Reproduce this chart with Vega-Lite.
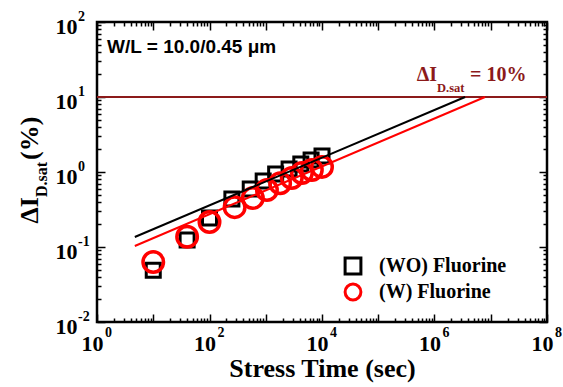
{
  "$schema": "https://vega.github.io/schema/vega-lite/v6.json",
  "width": 450,
  "height": 300,
  "autosize": {"type": "none"},
  "padding": {"left": 97, "top": 22, "right": 16, "bottom": 65},
  "background": "white",
  "config": {
    "view": {"stroke": "black", "strokeWidth": 2.5},
    "axis": {
      "domain": false, "grid": false, "tickColor": "black", "tickWidth": 1.5,
      "labelFont": "Liberation Serif", "labelFontWeight": "bold", "labelFontSize": 22, "labelColor": "black",
      "labelOverlap": false, "labelFlush": false,
      "titleFont": "Liberation Serif", "titleFontWeight": "bold", "titleFontSize": 26, "titleColor": "black"
    },
    "legend": {
      "title": null, "orient": "none", "legendX": 246, "legendY": 234, "padding": 0,
      "labelFont": "Liberation Serif", "labelFontWeight": "bold", "labelFontSize": 20, "labelColor": "black",
      "symbolSize": 250, "symbolStrokeWidth": 3, "rowPadding": -2, "labelOffset": 16
    },
    "text": {"font": "Liberation Serif", "fontWeight": "bold"}
  },
  "datasets": {
    "meas": [
      {"sample": "(WO) Fluorine", "time": 10, "dIdsat": 0.049},
      {"sample": "(WO) Fluorine", "time": 40, "dIdsat": 0.124},
      {"sample": "(WO) Fluorine", "time": 100, "dIdsat": 0.244},
      {"sample": "(WO) Fluorine", "time": 250, "dIdsat": 0.436},
      {"sample": "(WO) Fluorine", "time": 530, "dIdsat": 0.593},
      {"sample": "(WO) Fluorine", "time": 900, "dIdsat": 0.759},
      {"sample": "(WO) Fluorine", "time": 1500, "dIdsat": 0.94},
      {"sample": "(WO) Fluorine", "time": 2600, "dIdsat": 1.10},
      {"sample": "(WO) Fluorine", "time": 4200, "dIdsat": 1.28},
      {"sample": "(WO) Fluorine", "time": 6400, "dIdsat": 1.45},
      {"sample": "(WO) Fluorine", "time": 10000, "dIdsat": 1.63},
      {"sample": "(W) Fluorine", "time": 10, "dIdsat": 0.063},
      {"sample": "(W) Fluorine", "time": 40, "dIdsat": 0.137},
      {"sample": "(W) Fluorine", "time": 100, "dIdsat": 0.215},
      {"sample": "(W) Fluorine", "time": 280, "dIdsat": 0.34},
      {"sample": "(W) Fluorine", "time": 590, "dIdsat": 0.45},
      {"sample": "(W) Fluorine", "time": 1050, "dIdsat": 0.575},
      {"sample": "(W) Fluorine", "time": 1800, "dIdsat": 0.71},
      {"sample": "(W) Fluorine", "time": 2900, "dIdsat": 0.83},
      {"sample": "(W) Fluorine", "time": 4400, "dIdsat": 0.97},
      {"sample": "(W) Fluorine", "time": 6600, "dIdsat": 1.06},
      {"sample": "(W) Fluorine", "time": 10000, "dIdsat": 1.17}
    ],
    "fit": [
      {"sample": "(WO) Fluorine", "time": 4.7, "dIdsat": 0.136},
      {"sample": "(WO) Fluorine", "time": 3500000, "dIdsat": 10},
      {"sample": "(W) Fluorine", "time": 4.7, "dIdsat": 0.103},
      {"sample": "(W) Fluorine", "time": 7900000, "dIdsat": 10}
    ]
  },
  "layer": [
    {
      "data": {"values": [{}]},
      "mark": {"type": "rule", "color": "#8c1a1a", "strokeWidth": 2},
      "encoding": {
        "y": {"datum": 10, "type": "quantitative", "scale": {"type": "log", "domain": [0.01, 100]}, "axis": null}
      }
    },
    {
      "data": {"name": "meas"},
      "transform": [{"filter": "datum.sample == '(WO) Fluorine'"}],
      "mark": {"type": "point", "filled": false, "opacity": 1, "size": 196, "strokeWidth": 3},
      "encoding": {
        "x": {"field": "time", "type": "quantitative", "scale": {"type": "log", "domain": [1, 100000000]},
          "axis": {"orient": "bottom", "values": [1, 100, 10000, 1000000, 100000000], "labelExpr": "'10'",
            "ticks": false, "labelPadding": 11, "labelOffset": -5,
            "title": "Stress Time (sec)", "titlePadding": 1}},
        "y": {"field": "dIdsat", "type": "quantitative", "scale": {"type": "log", "domain": [0.01, 100]},
          "axis": {"orient": "left", "values": [0.01, 0.1, 1, 10, 100], "labelExpr": "'10'",
            "ticks": false, "labelPadding": 20, "labelOffset": 4, "labelAlign": "right", "labelBaseline": "middle",
            "title": null}},
        "shape": {"field": "sample", "type": "nominal",
          "scale": {"domain": ["(WO) Fluorine", "(W) Fluorine"], "range": ["square", "circle"]}},
        "stroke": {"field": "sample", "type": "nominal",
          "scale": {"domain": ["(WO) Fluorine", "(W) Fluorine"], "range": ["black", "#ff0000"]}}
      }
    },
    {
      "data": {"name": "meas"},
      "transform": [{"filter": "datum.sample == '(W) Fluorine'"}],
      "mark": {"type": "point", "filled": false, "opacity": 1, "size": 420, "strokeWidth": 3.5},
      "encoding": {
        "x": {"field": "time", "type": "quantitative", "scale": {"type": "log", "domain": [1, 100000000]}, "axis": null},
        "y": {"field": "dIdsat", "type": "quantitative", "scale": {"type": "log", "domain": [0.01, 100]}, "axis": null},
        "shape": {"field": "sample", "type": "nominal",
          "scale": {"domain": ["(WO) Fluorine", "(W) Fluorine"], "range": ["square", "circle"]}},
        "stroke": {"field": "sample", "type": "nominal",
          "scale": {"domain": ["(WO) Fluorine", "(W) Fluorine"], "range": ["black", "#ff0000"]}}
      }
    },
    {
      "data": {"name": "fit"},
      "transform": [{"filter": "datum.sample == '(WO) Fluorine'"}],
      "mark": {"type": "line", "color": "black", "strokeWidth": 2},
      "encoding": {
        "x": {"field": "time", "type": "quantitative", "scale": {"type": "log", "domain": [1, 100000000]},
          "axis": {"orient": "top", "labels": false, "title": null,
            "values": [1,2,3,4,5,6,7,8,9,10,20,30,40,50,60,70,80,90,100,200,300,400,500,600,700,800,900,1000,2000,3000,4000,5000,6000,7000,8000,9000,10000,20000,30000,40000,50000,60000,70000,80000,90000,100000,200000,300000,400000,500000,600000,700000,800000,900000,1000000,2000000,3000000,4000000,5000000,6000000,7000000,8000000,9000000,10000000,20000000,30000000,40000000,50000000,60000000,70000000,80000000,90000000,100000000],
            "tickSize": {"condition": {"test": "abs(log(datum.value)/LN10 - round(log(datum.value)/LN10)) < 0.001", "value": -8}, "value": -4}}},
        "y": {"field": "dIdsat", "type": "quantitative", "scale": {"type": "log", "domain": [0.01, 100]},
          "axis": {"orient": "right", "labels": false, "title": null,
            "values": [0.01,0.02,0.03,0.04,0.05,0.06,0.07,0.08,0.09,0.1,0.2,0.3,0.4,0.5,0.6,0.7,0.8,0.9,1,2,3,4,5,6,7,8,9,10,20,30,40,50,60,70,80,90,100],
            "tickSize": {"condition": {"test": "abs(log(datum.value)/LN10 - round(log(datum.value)/LN10)) < 0.001", "value": -8}, "value": -4}}}
      }
    },
    {
      "data": {"name": "fit"},
      "transform": [{"filter": "datum.sample == '(W) Fluorine'"}],
      "mark": {"type": "line", "color": "#ff0000", "strokeWidth": 2},
      "encoding": {
        "x": {"field": "time", "type": "quantitative", "scale": {"type": "log", "domain": [1, 100000000]},
          "axis": {"orient": "bottom", "values": [1, 100, 10000, 1000000, 100000000],
            "labelExpr": "'' + round(log(datum.value)/LN10)", "ticks": false,
            "labelFontSize": 14, "labelPadding": 3, "labelOffset": 11, "title": null}},
        "y": {"field": "dIdsat", "type": "quantitative", "scale": {"type": "log", "domain": [0.01, 100]},
          "axis": {"orient": "left", "values": [0.01, 0.1, 1, 10, 100],
            "labelExpr": "'' + round(log(datum.value)/LN10)", "ticks": false,
            "labelFontSize": 14, "labelAlign": "left", "labelBaseline": "middle", "labelPadding": 19.5, "labelOffset": -6, "title": null}}
      }
    },
    {
      "data": {"values": [{}]},
      "mark": {"type": "text", "font": "Liberation Sans", "fontWeight": "bold", "fontSize": 19, "align": "left", "baseline": "alphabetic", "color": "black"},
      "encoding": {
        "x": {"datum": 1.51, "type": "quantitative", "scale": {"type": "log", "domain": [1, 100000000]},
          "axis": {"orient": "bottom", "labels": false, "title": null,
            "values": [1,2,3,4,5,6,7,8,9,10,20,30,40,50,60,70,80,90,100,200,300,400,500,600,700,800,900,1000,2000,3000,4000,5000,6000,7000,8000,9000,10000,20000,30000,40000,50000,60000,70000,80000,90000,100000,200000,300000,400000,500000,600000,700000,800000,900000,1000000,2000000,3000000,4000000,5000000,6000000,7000000,8000000,9000000,10000000,20000000,30000000,40000000,50000000,60000000,70000000,80000000,90000000,100000000],
            "tickSize": {"condition": {"test": "abs(log(datum.value)/LN10 - round(log(datum.value)/LN10)) < 0.001", "value": -8}, "value": -4}}},
        "y": {"datum": 38.6, "type": "quantitative", "scale": {"type": "log", "domain": [0.01, 100]},
          "axis": {"orient": "left", "labels": false, "title": null,
            "values": [0.01,0.02,0.03,0.04,0.05,0.06,0.07,0.08,0.09,0.1,0.2,0.3,0.4,0.5,0.6,0.7,0.8,0.9,1,2,3,4,5,6,7,8,9,10,20,30,40,50,60,70,80,90,100],
            "tickSize": {"condition": {"test": "abs(log(datum.value)/LN10 - round(log(datum.value)/LN10)) < 0.001", "value": -8}, "value": -4}}},
        "text": {"value": "W/L = 10.0/0.45 μm"}
      }
    },
    {
      "data": {"values": [{}]},
      "mark": {"type": "text", "fontSize": 20, "align": "right", "baseline": "alphabetic", "color": "#8c1a1a"},
      "encoding": {
        "x": {"datum": 1107000, "type": "quantitative", "scale": {"type": "log", "domain": [1, 100000000]}, "axis": null},
        "y": {"datum": 16.1, "type": "quantitative", "scale": {"type": "log", "domain": [0.01, 100]}, "axis": null},
        "text": {"value": "ΔI"}
      }
    },
    {
      "data": {"values": [{}]},
      "mark": {"type": "text", "fontSize": 12.5, "align": "left", "baseline": "alphabetic", "color": "#8c1a1a"},
      "encoding": {
        "x": {"datum": 1107000, "type": "quantitative", "scale": {"type": "log", "domain": [1, 100000000]}, "axis": null},
        "y": {"datum": 11.66, "type": "quantitative", "scale": {"type": "log", "domain": [0.01, 100]}, "axis": null},
        "text": {"value": "D.sat"}
      }
    },
    {
      "data": {"values": [{}]},
      "mark": {"type": "text", "fontSize": 20, "align": "left", "baseline": "alphabetic", "color": "#8c1a1a"},
      "encoding": {
        "x": {"datum": 4280000, "type": "quantitative", "scale": {"type": "log", "domain": [1, 100000000]}, "axis": null},
        "y": {"datum": 16.1, "type": "quantitative", "scale": {"type": "log", "domain": [0.01, 100]}, "axis": null},
        "text": {"value": "= 10%"}
      }
    },
    {
      "data": {"values": [{}]},
      "mark": {"type": "text", "fontSize": 26, "angle": 270, "align": "right", "baseline": "alphabetic", "color": "black"},
      "encoding": {
        "x": {"datum": 0.0893, "type": "quantitative", "scale": {"type": "log", "domain": [1, 100000000]}, "axis": null},
        "y": {"datum": 0.464, "type": "quantitative", "scale": {"type": "log", "domain": [0.01, 100]}, "axis": null},
        "text": {"value": "ΔI"}
      }
    },
    {
      "data": {"values": [{}]},
      "mark": {"type": "text", "fontSize": 16, "angle": 270, "align": "left", "baseline": "alphabetic", "color": "black"},
      "encoding": {
        "x": {"datum": 0.129, "type": "quantitative", "scale": {"type": "log", "domain": [1, 100000000]}, "axis": null},
        "y": {"datum": 0.464, "type": "quantitative", "scale": {"type": "log", "domain": [0.01, 100]}, "axis": null},
        "text": {"value": "D.sat"}
      }
    },
    {
      "data": {"values": [{}]},
      "mark": {"type": "text", "fontSize": 26, "angle": 270, "align": "left", "baseline": "alphabetic", "color": "black"},
      "encoding": {
        "x": {"datum": 0.0893, "type": "quantitative", "scale": {"type": "log", "domain": [1, 100000000]}, "axis": null},
        "y": {"datum": 1.45, "type": "quantitative", "scale": {"type": "log", "domain": [0.01, 100]}, "axis": null},
        "text": {"value": "(%)"}
      }
    }
  ],
  "resolve": {"axis": {"x": "independent", "y": "independent"}}
}
